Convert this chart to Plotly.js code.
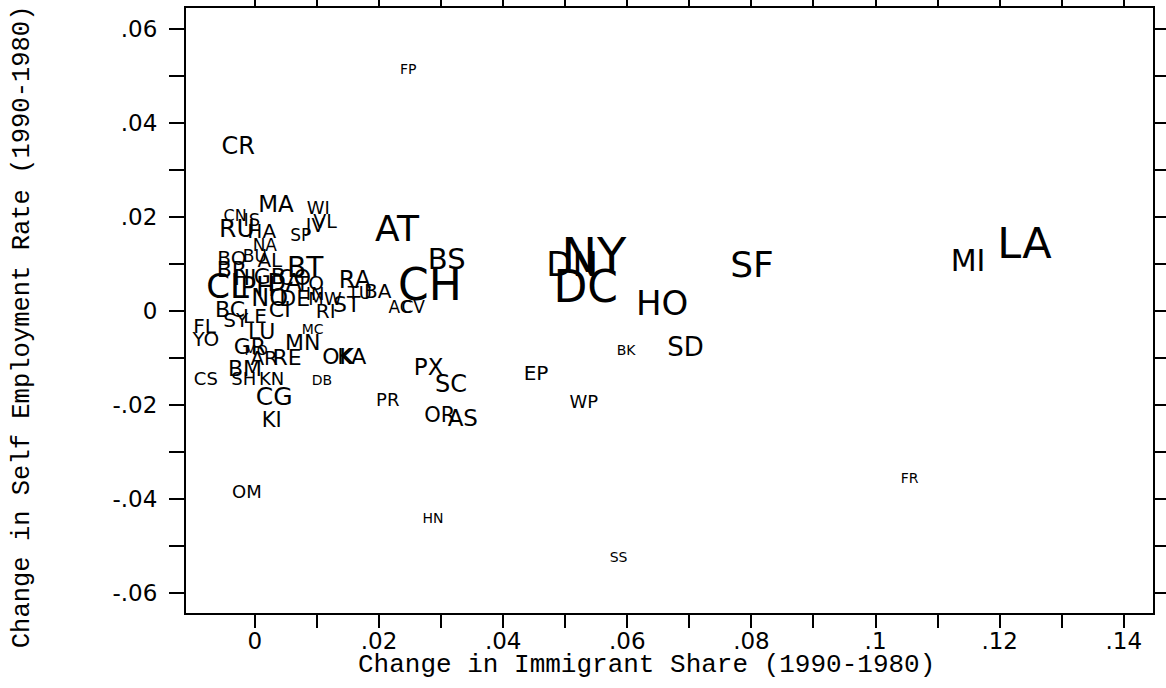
<!DOCTYPE html>
<html>
<head>
<meta charset="utf-8">
<script src="https://cdn.plot.ly/plotly-3.0.1.min.js"></script>
<style>
html,body{margin:0;padding:0;background:#fff;}
#chart{width:1166px;height:688px;}
</style>
</head>
<body>
<div id="chart"></div>
<script>
// City codes
const cities = ["FP","CR","MA","WI","CN","IS","RU","HA","JV","VL","SP","NA","BU","AT","BS","CH","NY","DN","DC","SF","HO","MI","LA","SD","BK","EP","WP","FR","SS","HN","OM","KI","CG","CS","DB","PR","PX","SC","OR","AS","OK","KA","AC","CV","ST","RA","BA","TU","BR","BT","CL","PH","DA","NO","DE","IN","MW","RI","CI","BC","SY","FL","YO","LU","MN","MC","GR","MO","AR","RE","BM","SH","KN","LE","BO","AL","TO","CO","HI","GB"];
// Change in Immigrant Share (1990-1980)
const immShare = [0.0247,-0.0027,0.0034,0.0102,-0.0032,-0.0005,-0.0029,0.0011,0.0097,0.0113,0.0074,0.0016,0.0000,0.0229,0.0309,0.0282,0.0546,0.0511,0.0533,0.0801,0.0656,0.1149,0.1240,0.0694,0.0598,0.0453,0.0530,0.1055,0.0586,0.0287,-0.0013,0.0027,0.0031,-0.0079,0.0108,0.0214,0.0280,0.0316,0.0298,0.0335,0.0134,0.0156,0.0234,0.0255,0.0148,0.0161,0.0198,0.0169,-0.0037,0.0081,-0.0044,0.0005,0.0048,0.0024,0.0064,0.0097,0.0113,0.0114,0.0040,-0.0040,-0.0031,-0.0081,-0.0079,0.0011,0.0077,0.0093,-0.0008,0.0002,0.0015,0.0052,-0.0016,-0.0018,0.0027,0.0000,-0.0037,0.0024,0.0089,0.0064,-0.0016,0.0024];
// Change in Self Employment Rate (1990-1980)
const selfEmp = [0.0511,0.0347,0.0224,0.0215,0.0200,0.0190,0.0170,0.0166,0.0179,0.0187,0.0158,0.0136,0.0113,0.0168,0.0104,0.0047,0.0109,0.0092,0.0043,0.0092,0.0009,0.0102,0.0136,-0.0083,-0.0087,-0.0136,-0.0196,-0.0358,-0.0528,-0.0443,-0.0388,-0.0236,-0.0187,-0.0147,-0.0151,-0.0192,-0.0124,-0.0160,-0.0226,-0.0232,-0.0102,-0.0102,0.0004,0.0004,0.0009,0.0062,0.0038,0.0036,0.0085,0.0087,0.0045,0.0045,0.0055,0.0023,0.0023,0.0034,0.0023,-0.0004,-0.0002,-0.0002,-0.0023,-0.0036,-0.0064,-0.0049,-0.0072,-0.0041,-0.0079,-0.0087,-0.0104,-0.0104,-0.0126,-0.0147,-0.0147,-0.0015,0.0109,0.0104,0.0055,0.0066,0.0066,0.0070];
// Relative city weight (drives label size)
const weights = [14,24,23,18,16,18,25,20,19,19,17,17,17,36,29,44,48,34,44,36,34,30,43,26,14,20,18,14,14,14,18,21,25,18,14,18,23,24,21,23,22,22,17,17,22,24,20,18,22,28,34,26,24,24,22,18,18,20,22,22,20,20,20,22,22,14,22,14,20,22,22,18,18,20,20,20,20,22,22,22];

const xTickVals = [0,0.01,0.02,0.03,0.04,0.05,0.06,0.07,0.08,0.09,0.10,0.11,0.12,0.13,0.14];
const xTickText = ["0","",".02","",".04","",".06","",".08","",".1","",".12","",".14"];
const yTickVals = [-0.06,-0.05,-0.04,-0.03,-0.02,-0.01,0,0.01,0.02,0.03,0.04,0.05,0.06];
const yTickText = ["-.06","","-.04","","-.02","","0","",".02","",".04","",".06"];

const monoFont = "Liberation Mono, DejaVu Sans Mono, monospace";
const sansFont = "DejaVu Sans, sans-serif";

const trace = {
  type: "scatter",
  mode: "text",
  x: immShare,
  y: selfEmp,
  text: cities,
  textposition: "middle center",
  textfont: {family: sansFont, size: weights.map(w => w), color: "#000"},
  hoverinfo: "text",
  showlegend: false
};

const axisCommon = {
  showgrid: false,
  zeroline: false,
  showline: true,
  linewidth: 2,
  linecolor: "#000",
  mirror: "ticks",
  ticks: "outside",
  tickwidth: 2,
  tickcolor: "#000",
  tickfont: {family: sansFont, size: 23, color: "#000"}
};

const layout = {
  width: 1166,
  height: 688,
  margin: {l: 186, r: 13, t: 8, b: 75},
  paper_bgcolor: "#fff",
  plot_bgcolor: "#fff",
  xaxis: Object.assign({}, axisCommon, {
    range: [-0.0111, 0.1447],
    tickmode: "array",
    tickvals: xTickVals,
    ticktext: xTickText,
    ticklen: 13,
    ticklabelstandoff: -7
  }),
  yaxis: Object.assign({}, axisCommon, {
    range: [-0.0643, 0.0645],
    tickmode: "array",
    tickvals: yTickVals,
    ticktext: yTickText,
    ticklen: 15,
    ticklabelstandoff: 7
  }),
  annotations: [
    {
      text: "Change in Immigrant Share (1990-1980)",
      xref: "paper", yref: "paper",
      x: 0.476, y: -0.086,
      xanchor: "center", yanchor: "middle",
      showarrow: false,
      font: {family: monoFont, size: 26, color: "#000"}
    },
    {
      text: "Change in Self Employment Rate (1990-1980)",
      xref: "paper", yref: "paper",
      x: -0.1696, y: 0.474,
      xanchor: "center", yanchor: "middle",
      textangle: -90,
      showarrow: false,
      font: {family: monoFont, size: 25.5, color: "#000"}
    }
  ]
};

Plotly.newPlot("chart", [trace], layout, {displayModeBar: false, staticPlot: true});
</script>
</body>
</html>
